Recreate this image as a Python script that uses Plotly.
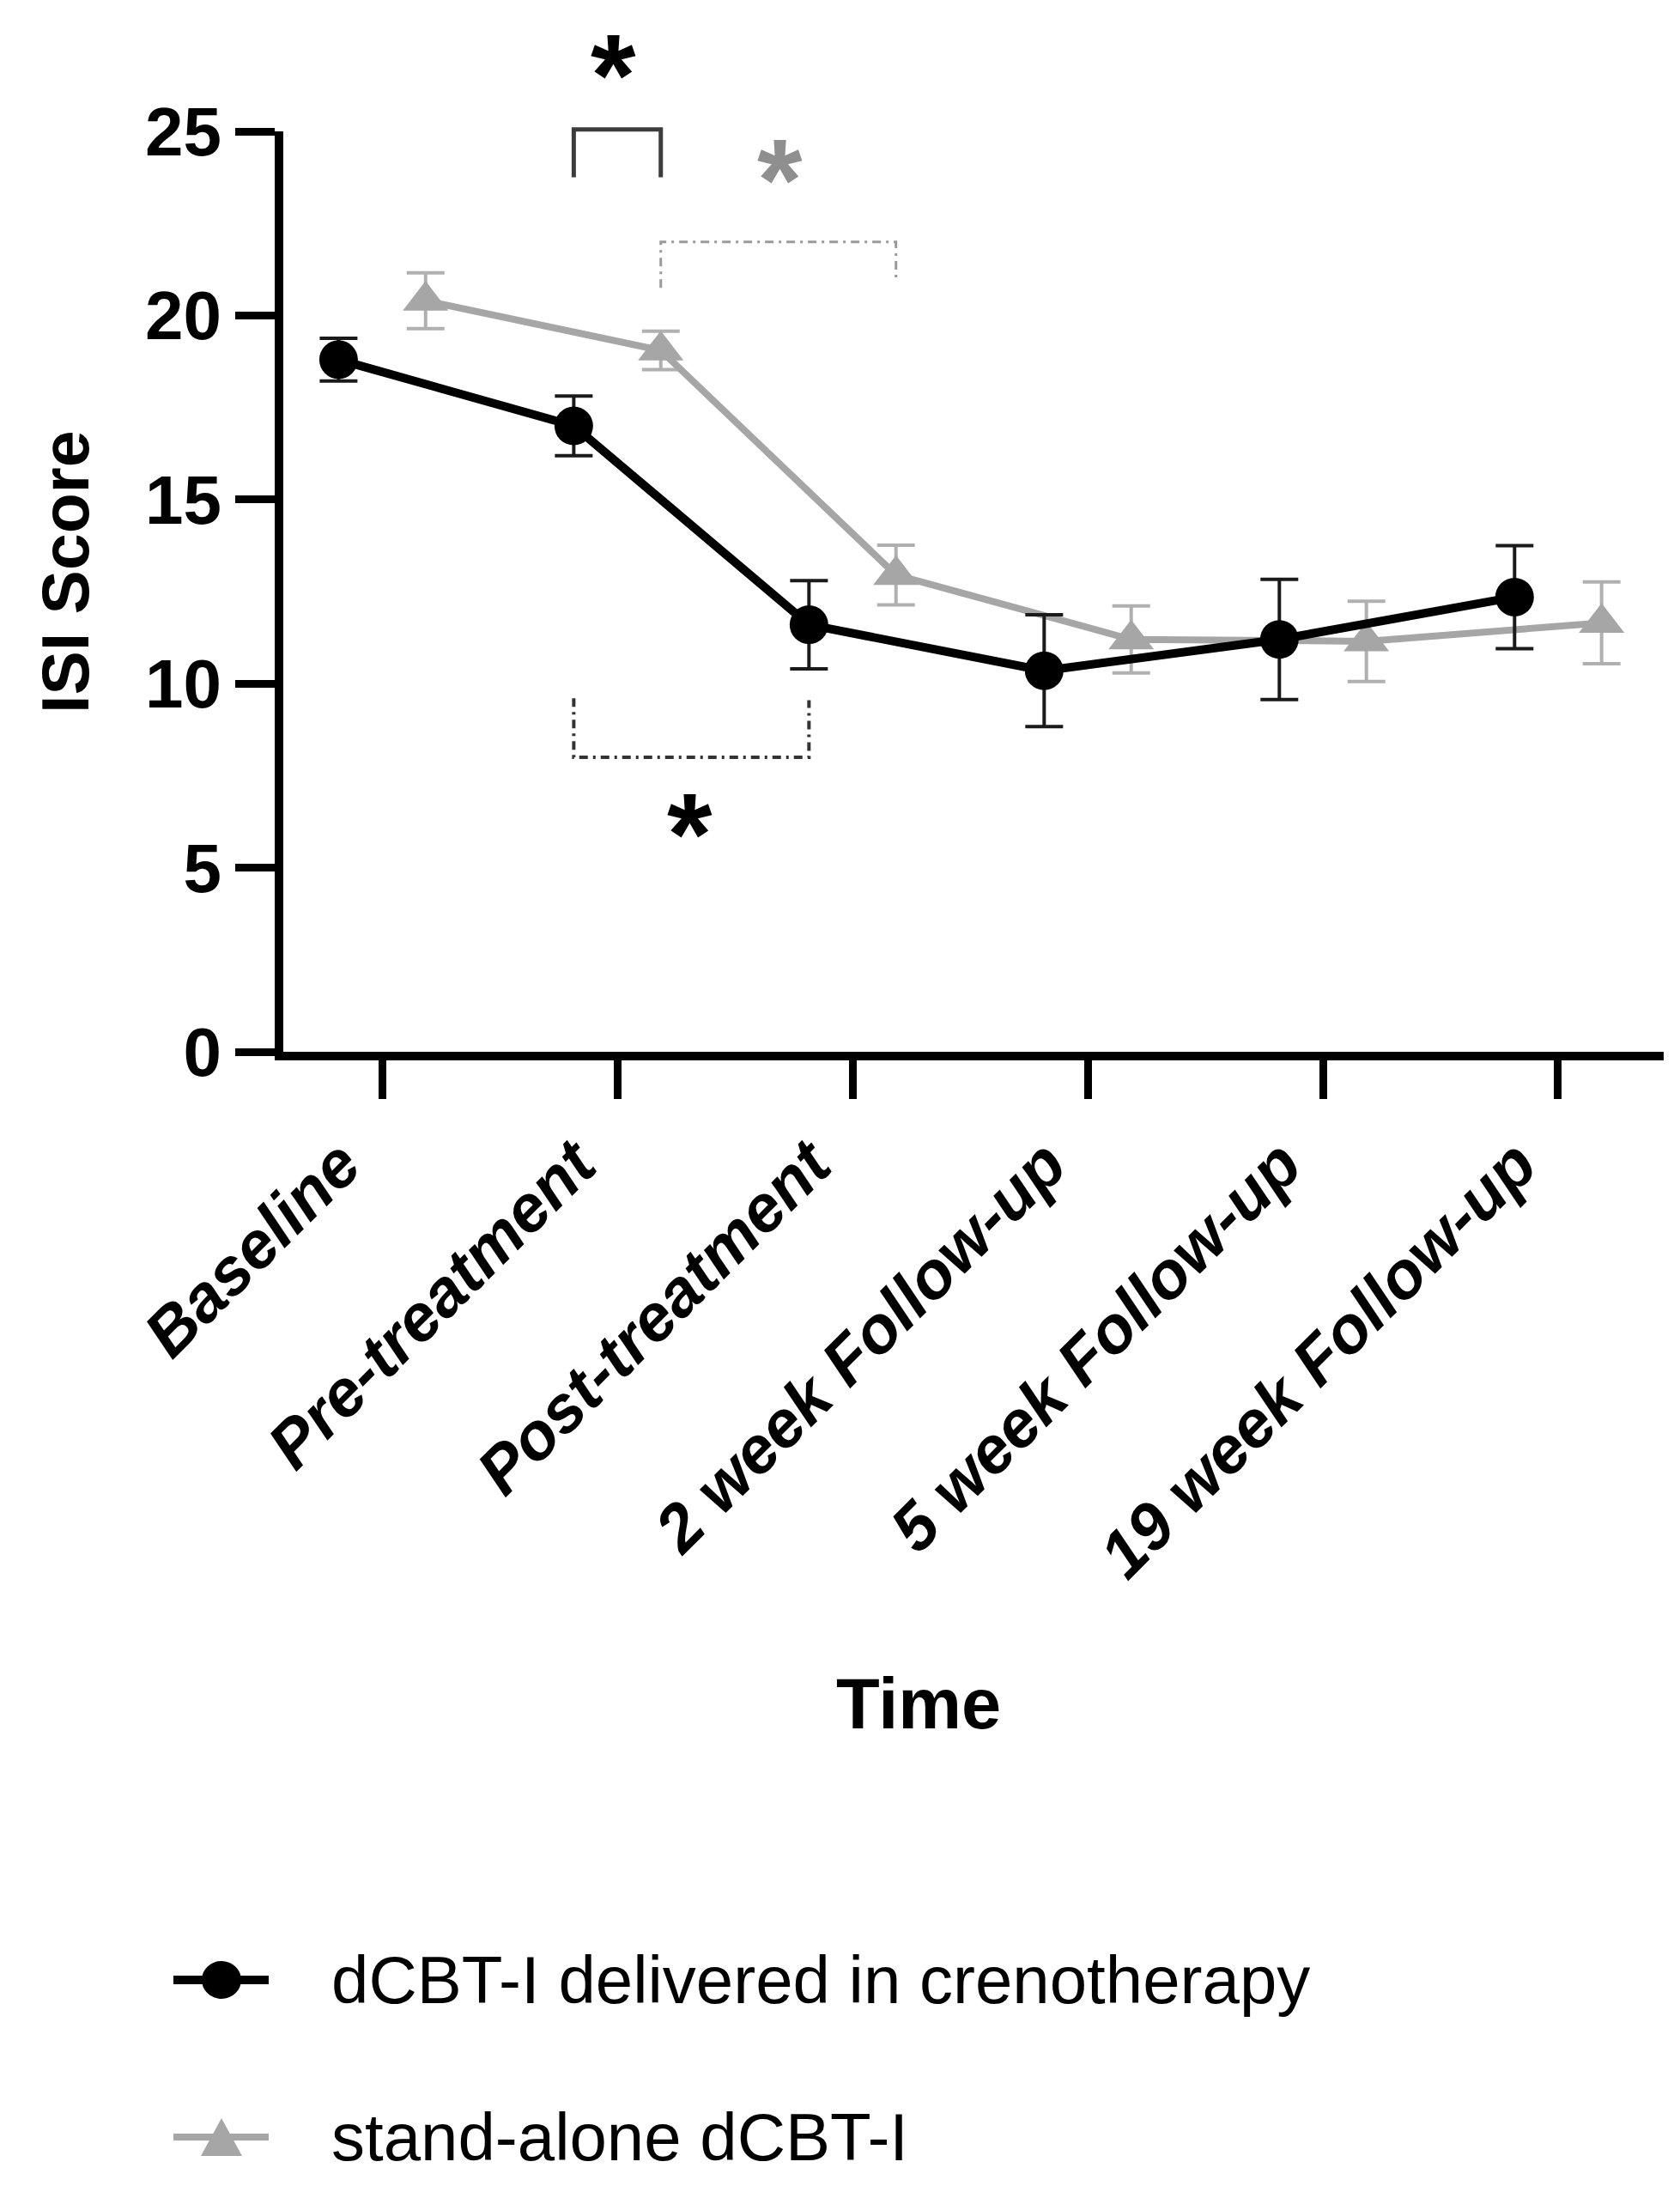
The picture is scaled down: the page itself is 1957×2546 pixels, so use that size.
import plotly.graph_objects as go

# ISI score by time point (mean and error bar)
TIME_POINTS = ['Baseline', 'Pre-treatment', 'Post-treatment',
               '2 week Follow-up', '5 week Follow-up', '19 week Follow-up']

CRENO_NAME = 'dCBT-I delivered in crenotherapy'
CRENO_MEAN = [18.8, 17.0, 11.6, 10.35, 11.2, 12.35]
CRENO_ERR = [0.58, 0.81, 1.2, 1.52, 1.63, 1.4]

ALONE_NAME = 'stand-alone dCBT-I'
ALONE_MEAN = [20.4, 19.05, 12.95, 11.2, 11.15, 11.65]
ALONE_ERR = [0.76, 0.52, 0.81, 0.91, 1.09, 1.11]

Y_TICKS = [0, 5, 10, 15, 20, 25]

# significance brackets between two plotted points: y of the bar and of the two leg ends
BRACKETS = [
    dict(a=(1, 'creno'), b=(1, 'alone'), y=25.05, legs=(23.75, 23.75), style='solid'),
    dict(a=(1, 'alone'), b=(2, 'alone'), y=22.0, legs=(20.75, 20.9), style='gray'),
    dict(a=(1, 'creno'), b=(2, 'creno'), y=8.0, legs=(9.6, 9.55), style='black_dd'),
]
STARS = [
    dict(x=0.985, y=26.9, color='#000000'),
    dict(x=1.69, y=24.05, color='#8f8f8f'),
    dict(x=1.31, y=6.3, color='#000000'),
]

FONT = 'Liberation Sans, Arial, sans-serif'
BLACK = '#000000'
GRAY = '#a6a6a6'
OFFSET = {'creno': -0.185, 'alone': 0.185}
Y_MAX = 25

W, H = 1957, 2546
M_L, M_R, M_T, M_B = 322, 27, 145, 1329
PLOT_H = H - M_T - M_B
PLOT_W = W - M_L - M_R


def xpos(i, group):
    return i + OFFSET[group]


def px_to_paper_y(y_px):
    return (H - M_B - y_px) / PLOT_H


def px_to_paper_x(x_px):
    return (x_px - M_L) / PLOT_W


fig = go.Figure()

fig.add_trace(go.Scatter(
    x=[xpos(i, 'alone') for i in range(len(TIME_POINTS))], y=ALONE_MEAN,
    name=ALONE_NAME, mode='lines+markers', showlegend=False,
    line=dict(color=GRAY, width=8),
    marker=dict(symbol='triangle-up', size=46, color=GRAY),
    error_y=dict(type='data', array=ALONE_ERR, visible=True,
                 color='#b0b0b0', thickness=4, width=22)))

fig.add_trace(go.Scatter(
    x=[xpos(i, 'creno') for i in range(len(TIME_POINTS))], y=CRENO_MEAN,
    name=CRENO_NAME, mode='lines+markers', showlegend=False,
    line=dict(color=BLACK, width=10),
    marker=dict(symbol='circle', size=45, color=BLACK),
    error_y=dict(type='data', array=CRENO_ERR, visible=True,
                 color='#1a1a1a', thickness=4, width=22)))

BRACKET_STYLE = {
    'solid': dict(color='#3c3c3c', width=5, dash='solid'),
    'gray': dict(color='#9a9a9a', width=3, dash='10px,6px,3px,6px'),
    'black_dd': dict(color='#333333', width=4, dash='10px,6px,3px,6px'),
}

for br in BRACKETS:
    x0 = xpos(*br['a'])
    x1 = xpos(*br['b'])
    path = (f"M {x0},{br['legs'][0] / Y_MAX} L {x0},{br['y'] / Y_MAX} "
            f"L {x1},{br['y'] / Y_MAX} L {x1},{br['legs'][1] / Y_MAX}")
    fig.add_shape(type='path', path=path, xref='x', yref='paper',
                  line=BRACKET_STYLE[br['style']])

# the '*' glyph sits high in its line box, shift the box down so the glyph lands on y
STAR_SIZE = 135
for st in STARS:
    fig.add_annotation(x=st['x'], y=st['y'] / Y_MAX, xref='x', yref='paper',
                       text='*', showarrow=False,
                       xanchor='center', yanchor='middle',
                       yshift=-0.12 * STAR_SIZE,
                       font=dict(family=FONT, size=STAR_SIZE, color=st['color'],
                                 weight='bold'))

# legend drawn by hand so the keys keep the size of the plotted symbols
LEGEND_ROWS = [
    dict(name=CRENO_NAME, color=BLACK, symbol='circle', y_px=2298, lw=10),
    dict(name=ALONE_NAME, color=GRAY, symbol='triangle', y_px=2481, lw=8),
]
key_x0 = px_to_paper_x(194)
key_x1 = px_to_paper_x(305)
key_xc = px_to_paper_x(250)
text_x = px_to_paper_x(376)
for row in LEGEND_ROWS:
    yp = px_to_paper_y(row['y_px'])
    fig.add_shape(type='line', xref='paper', yref='paper',
                  x0=key_x0, x1=key_x1, y0=yp, y1=yp,
                  line=dict(color=row['color'], width=row['lw']))
    if row['symbol'] == 'circle':
        fig.add_shape(type='circle', xref='paper', yref='paper',
                      xsizemode='pixel', ysizemode='pixel',
                      xanchor=key_xc, yanchor=yp,
                      x0=-23, x1=23, y0=-22, y1=22,
                      fillcolor=row['color'], line=dict(width=0))
    else:
        fig.add_shape(type='path', xref='paper', yref='paper',
                      xsizemode='pixel', ysizemode='pixel',
                      xanchor=key_xc, yanchor=yp,
                      path='M -24,-22 L 24,-22 L 0,22 Z',
                      fillcolor=row['color'], line=dict(width=0))
    fig.add_annotation(x=text_x, y=yp, xref='paper', yref='paper',
                       xanchor='left', yanchor='middle', showarrow=False,
                       text=row['name'],
                       font=dict(family=FONT, size=78, color=BLACK))

fig.add_annotation(x=px_to_paper_x(1062), y=px_to_paper_y(1976),
                   xref='paper', yref='paper', showarrow=False,
                   text='Time', xanchor='center', yanchor='middle',
                   font=dict(family=FONT, size=83, color=BLACK, weight='bold'))

fig.add_annotation(x=px_to_paper_x(68), y=px_to_paper_y(658),
                   xref='paper', yref='paper', showarrow=False,
                   text='ISI Score', textangle=-90,
                   xanchor='center', yanchor='middle',
                   font=dict(family=FONT, size=77, color=BLACK, weight='bold'))

fig.update_xaxes(
    range=[-0.42, 5.449], tickvals=list(range(len(TIME_POINTS))),
    ticktext=TIME_POINTS, tickangle=-45, ticklabelshift=-48,
    tickfont=dict(family=FONT, size=77, color=BLACK, weight='bold', style='italic'),
    ticks='outside', ticklen=45, tickwidth=9, tickcolor=BLACK,
    showline=True, linewidth=10, linecolor=BLACK,
    showgrid=False, zeroline=False)

fig.update_yaxes(
    range=[0, Y_MAX], tickvals=Y_TICKS,
    tickfont=dict(family=FONT, size=80, color=BLACK, weight='bold'),
    ticks='outside', ticklen=46, tickwidth=9, tickcolor=BLACK,
    showline=True, linewidth=10, linecolor=BLACK,
    showgrid=False, zeroline=False)

fig.update_layout(
    width=W, height=H,
    margin=dict(l=M_L, r=M_R, t=M_T, b=M_B, autoexpand=False),
    paper_bgcolor='white', plot_bgcolor='white',
    showlegend=False)

fig.write_html("out.html")
